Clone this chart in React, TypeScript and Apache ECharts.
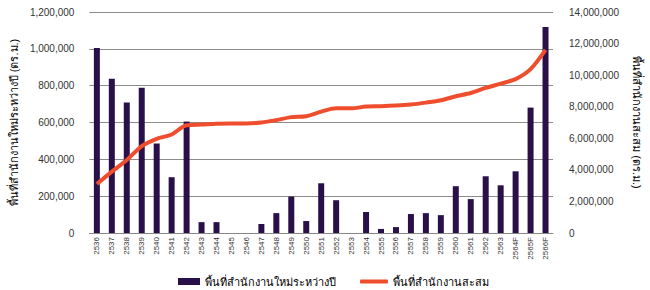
import React, { useEffect, useRef } from "react";
import * as echarts from "echarts";

const categories = [
  "2536", "2537", "2538", "2539", "2540", "2541", "2542", "2543", "2544", "2545",
  "2546", "2547", "2548", "2549", "2550", "2551", "2552", "2553", "2554", "2555",
  "2556", "2557", "2558", "2559", "2560", "2561", "2562", "2563", "2564F", "2565F", "2566F",
];

const newSpace = [
  1005000, 838000, 708000, 789000, 486000, 303000, 605000, 59000, 59000, 0,
  0, 49000, 108000, 198000, 65000, 270000, 178000, 0, 114000, 22000,
  32000, 103000, 108000, 97000, 254000, 184000, 308000, 259000, 335000, 681000, 1119000,
];

const cumulativeSpace = [
  3100000, 3890000, 4620000, 5510000, 5970000, 6240000, 6830000, 6870000, 6920000, 6940000,
  6940000, 7000000, 7150000, 7340000, 7400000, 7690000, 7900000, 7900000, 8010000, 8030000,
  8070000, 8140000, 8260000, 8410000, 8660000, 8870000, 9190000, 9460000, 9750000, 10380000, 11600000,
];

const barName = "พื้นที่สำนักงานใหม่ระหว่างปี";
const lineName = "พื้นที่สำนักงานสะสม";
const leftAxisName = "พื้นที่สำนักงานใหม่ระหว่างปี (ตร.ม.)";
const rightAxisName = "พื้นที่สำนักงานสะสม (ตร.ม.)";

const FONT = "Arial, 'Liberation Sans', 'Noto Sans', sans-serif";
const BAR_COLOR = "#2a1049";
const LINE_COLOR = "#ef4e2e";

export default function App() {
  const ref = useRef<HTMLDivElement>(null);
  useEffect(() => {
    document.body.style.margin = "0";
    const chart = echarts.init(ref.current!, undefined, { renderer: "svg" });
    const fmt = (v: number) => v.toLocaleString("en-US");
    chart.setOption({
      animation: false,
      textStyle: { fontFamily: FONT },
      grid: { left: 86, right: 94, top: 12, bottom: 57, containLabel: false },
      legend: [
        {
          top: 271,
          left: 173,
          itemWidth: 22,
          itemHeight: 7,
          textStyle: { fontSize: 11, color: "#000", fontFamily: FONT },
          data: [{ name: barName, icon: "rect" }],
        },
        {
          top: 271,
          left: 355,
          itemWidth: 28,
          itemHeight: 4,
          itemGap: 2,
          textStyle: { fontSize: 11, color: "#000", fontFamily: FONT },
          data: [{ name: lineName, icon: "roundRect", itemStyle: { color: LINE_COLOR } }],
        },
      ],
      xAxis: {
        type: "category",
        data: categories,
        boundaryGap: true,
        axisLine: { lineStyle: { color: "#888", width: 1 } },
        axisTick: { alignWithLabel: false, length: 4, lineStyle: { color: "#888" } },
        axisLabel: { rotate: 90, fontSize: 8, color: "#333", margin: 4, interval: 0 },
      },
      yAxis: [
        {
          type: "value",
          min: 0,
          max: 1200000,
          interval: 200000,
          name: leftAxisName,
          nameLocation: "middle",
          nameRotate: 90,
          nameGap: 68,
          nameTextStyle: { fontSize: 11, color: "#000" },
          axisLine: { show: false },
          axisTick: { show: false },
          splitLine: { lineStyle: { color: "#8c8c8c", width: 1 } },
          axisLabel: { fontSize: 10, color: "#333", margin: 15, formatter: fmt },
        },
        {
          type: "value",
          min: 0,
          max: 14000000,
          interval: 2000000,
          position: "right",
          name: rightAxisName,
          nameLocation: "middle",
          nameRotate: -90,
          nameGap: 78,
          nameTextStyle: { fontSize: 11, color: "#000" },
          axisLine: { show: false },
          axisTick: { show: false },
          splitLine: { show: false },
          axisLabel: { fontSize: 10, color: "#333", margin: 16, formatter: fmt },
        },
      ],
      series: [
        {
          name: barName,
          type: "bar",
          data: newSpace,
          barWidth: 6,
          itemStyle: { color: BAR_COLOR },
          yAxisIndex: 0,
        },
        {
          name: lineName,
          type: "line",
          data: cumulativeSpace,
          yAxisIndex: 1,
          smooth: 0.3,
          symbol: "none",
          lineStyle: { color: LINE_COLOR, width: 4 },
          itemStyle: { color: LINE_COLOR },
        },
      ],
    });
    return () => chart.dispose();
  }, []);
  return <div ref={ref} style={{ width: 650, height: 290 }} />;
}
